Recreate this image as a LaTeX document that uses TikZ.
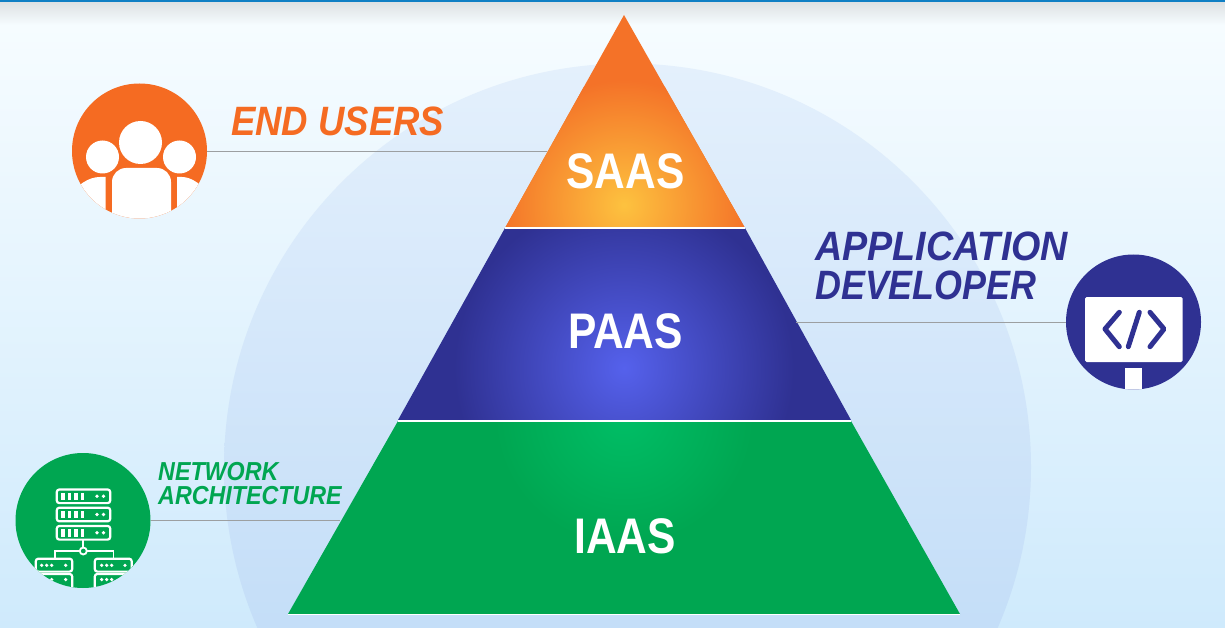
\documentclass[tikz,border=0pt]{standalone}
\usepackage{fontspec}
\newfontfamily\tierfont[FakeStretch=0.85]{Liberation Sans}
\newfontfamily\calloutfont[FakeStretch=0.89]{Liberation Sans}
\newfontfamily\appfont[FakeStretch=0.92]{Liberation Sans}
\newfontfamily\devfont[FakeStretch=0.875]{Liberation Sans}
\newfontfamily\netfont[FakeStretch=0.895]{Liberation Sans}
\definecolor{topbar}{HTML}{0F7FC4}
\definecolor{shadowgray}{HTML}{DDE1E3}
\definecolor{bgtop}{HTML}{F6FCFF}
\definecolor{bgbottom}{HTML}{CFEAFC}
\definecolor{halotop}{HTML}{E4F0FC}
\definecolor{halobottom}{HTML}{C4DEF8}
\definecolor{orangeout}{HTML}{F47228}
\definecolor{orangein}{HTML}{FDC23F}
\definecolor{blueout}{HTML}{2F3192}
\definecolor{bluein}{HTML}{5561EC}
\definecolor{greenout}{HTML}{00A651}
\definecolor{greenin}{HTML}{00BE66}
\definecolor{iconorange}{HTML}{F56B22}
\definecolor{linegray}{HTML}{9C9FA1}
\pgfdeclareradialshading{saasglow}{\pgfpoint{0bp}{0bp}}{color(0bp)=(orangein); color(25bp)=(orangeout); color(50bp)=(orangeout)}
\pgfdeclareradialshading{paasglow}{\pgfpoint{0bp}{0bp}}{color(0bp)=(bluein); color(25bp)=(blueout); color(50bp)=(blueout)}
\pgfdeclareradialshading{iaasglow}{\pgfpoint{0bp}{0bp}}{color(0bp)=(greenin); color(25bp)=(greenout); color(50bp)=(greenout)}
\tikzset{
  tierlabel/.style={text=white,inner sep=0,font=\tierfont\bfseries\fontsize{50}{50}\selectfont},
  callout/.style={inner sep=0,anchor=base west,align=left},
  iconcircle/.style={circle,inner sep=0,minimum size=135pt},
  leader/.style={draw=linegray,line width=0.9pt},
  tieredge/.style={draw=white,line width=1.4pt},
  wire/.style={draw=white,line width=1.8pt},
  rackbox/.style={draw=white,line width=2.2pt,rounded corners=2.5pt},
  codeglyph/.style={draw=blueout,line width=5pt,line cap=round,line join=round},
}
\begin{document}
\begin{tikzpicture}[x=1pt,y=-1pt]
\useasboundingbox (0,0) rectangle (1225,628);
% background
\shade[top color=bgtop,bottom color=bgbottom] (0,25) rectangle (1225,628);
\shade[top color=shadowgray,bottom color=bgtop] (0,2) rectangle (1225,25);
\fill[topbar] (0,0) rectangle (1225,2);
% halo
\begin{scope}
\clip (627.5,467) circle (403.5);
\shade[top color=halotop,bottom color=halobottom] (200,64) rectangle (1050,628);
\end{scope}
% SAAS
\begin{scope}
\clip (624,15) -- (745,228) -- (505,228) -- cycle;
\fill[orangeout] (480,0) rectangle (770,240);
\shade[shading=saasglow] (624,205) circle (125);
\end{scope}
% PAAS
\begin{scope}
\clip (505,228) -- (745,228) -- (851,420) -- (398,420) -- cycle;
\fill[blueout] (380,220) rectangle (870,430);
\shade[shading=paasglow] (624,368) circle (170);
\end{scope}
% IAAS
\begin{scope}
\clip (398,421) -- (851,421) -- (960,614) -- (288,614) -- cycle;
\fill[greenout] (280,415) rectangle (970,620);
\shade[shading=iaasglow] (624,415) circle (130);
\end{scope}
\draw[tieredge] (505,228) -- (745,228);
\draw[tieredge] (398,421) -- (851,421);
\draw[tieredge] (288,614.5) -- (960,614.5);
\node[tierlabel] (saas) at (625.5,171.5) {SAAS};
\node[tierlabel] (paas) at (625.5,331.5) {PAAS};
\node[tierlabel] (iaas) at (625,536.5) {IAAS};
% icon discs
\node[iconcircle,fill=iconorange] (users) at (139.5,151) {};
\node[iconcircle,fill=blueout] (developer) at (1133.5,322) {};
\node[iconcircle,fill=greenout] (network) at (83,520.5) {};
% leaders
\coordinate (usersend) at (547,151);
\coordinate (developerend) at (796,322);
\coordinate (networkend) at (340,520.5);
\draw[leader] (users) -- (usersend);
\draw[leader] (developer) -- (developerend);
\draw[leader] (network) -- (networkend);
% callouts
\node[callout,text=iconorange,font=\calloutfont\bfseries\itshape\fontsize{41}{41}\selectfont] (userslabel) at (231,136) {END USERS};
\node[callout,text=blueout,anchor=north west,font=\bfseries\itshape\fontsize{41}{39}\selectfont] (developerlabel) at (815,232) {{\appfont APPLICATION}\\{\devfont DEVELOPER}};
\node[callout,text=greenout,anchor=north west,font=\netfont\bfseries\itshape\fontsize{26}{24}\selectfont] (networklabel) at (158,462) {NETWORK\\ARCHITECTURE};
% users icon
\begin{scope}
\clip (139.5,151) circle (67.5);
\fill[white] (102.5,157) circle (16.5);
\fill[white] (179.5,157) circle (16.5);
\fill[white] (140.5,142.5) circle (21.5);
\fill[white,rounded corners=14pt] (112,235) -- (112,168) -- (171,168) -- (171,235) -- cycle;
\fill[white] (66,198) .. controls (78,185) and (88,177) .. (100,177) -- (105.5,177) -- (105.5,230) -- (66,230) -- cycle;
\fill[white] (214,198) .. controls (202,185) and (192,177) .. (182,177) -- (177,177) -- (177,230) -- (214,230) -- cycle;
\end{scope}
% developer icon
\begin{scope}
\clip (1133.5,322) circle (67.5);
\fill[white,rounded corners=1.5pt] (1085,297) rectangle (1182.5,362);
\fill[white] (1125,367.5) rectangle (1142,395);
\end{scope}
\draw[codeglyph] (1119.3,312.3) -- (1105,329) -- (1119.3,346.7);
\draw[codeglyph] (1139.3,312.3) -- (1128.3,346.7);
\draw[codeglyph] (1150,312.3) -- (1164,329) -- (1150,346.7);
% network icon
\begin{scope}
\clip (83,520.5) circle (67.5);
\foreach \top in {489.5,507.7,526}{
  \draw[rackbox] (56.8,\top) rectangle (110.2,\top+13.6);
  \foreach \bx in {63,69.5,76,82.5}
    \fill[white] (\bx-1.8,\top+3) rectangle (\bx+1.8,\top+10.6);
  \fill[white] (97,\top+6.8) circle (1.9);
  \fill[white] (103.5,\top+6.8) circle (1.9);
}
\draw[wire] (83.3,540) -- (83.3,547.5);
\draw[wire] (55,558) -- (55,551) -- (79.8,551);
\draw[wire] (113.5,558) -- (113.5,551) -- (86.8,551);
\draw[wire] (83.3,551) circle (3.5);
\clip (20,550) rectangle (145,586);
\foreach \lx/\rx in {35.8/72.2,94.8/131.7}{
  \draw[rackbox] (\lx,558.7) rectangle (\rx,571.6);
  \draw[rackbox] (\lx,574) rectangle (\rx,590);
}
\foreach \rowy in {565.3,579.5}{
  \foreach \dx in {41.7,46.7,51.7,65.7,101.7,106.7,111.7,125}
    \fill[white] (\dx,\rowy) circle (1.8);
}
\end{scope}
\end{tikzpicture}
\end{document}
